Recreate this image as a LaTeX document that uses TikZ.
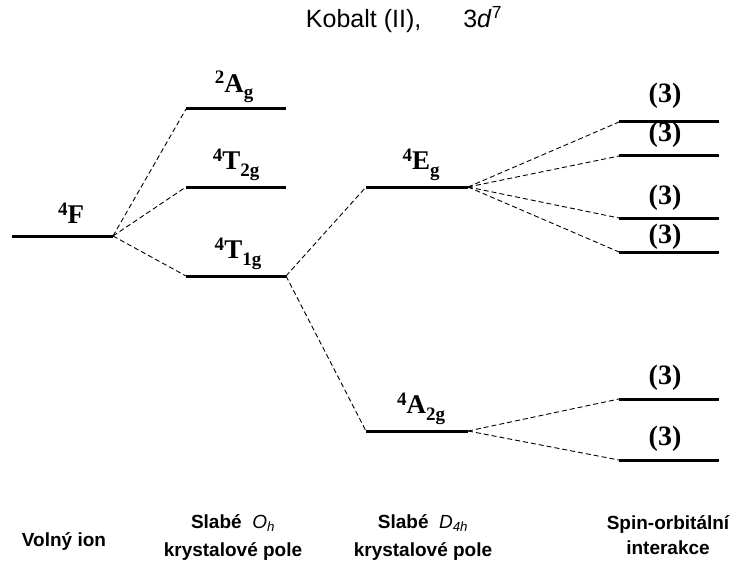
\documentclass[tikz,border=0pt]{standalone}
\usepackage{fontspec}
\setmainfont{Liberation Sans}
\newfontfamily\tms{Liberation Serif}
\newcommand\mysup[1]{\raisebox{0.3em}{\fontsize{19}{20}\selectfont #1}}
\newcommand\mysub[1]{\raisebox{-0.24em}{\fontsize{19}{20}\selectfont #1}}
\begin{document}
\begin{tikzpicture}[x=1pt,y=-1pt,
  level/.style={line width=3pt},
  conn/.style={line width=0.9pt,dash pattern=on 5pt off 3pt},
  lab/.style={font=\tms\bfseries\fontsize{27}{30}\selectfont,inner sep=0pt},
  deg/.style={font=\tms\bfseries\fontsize{28}{30}\selectfont,inner sep=0pt},
  foot/.style={font=\bfseries\fontsize{19}{22}\selectfont,align=center,inner sep=0pt}]
\useasboundingbox (0,0) rectangle (751,564);
% title
\node[font=\fontsize{25}{27}\selectfont,inner sep=0pt] (title) at (404,20) {Kobalt (II),\hspace{42pt}3\textit{d}\textsuperscript{7}};
% level end points
\coordinate (FL) at (12,236);   \coordinate (FR) at (113,236);
\coordinate (AgL) at (186,109); \coordinate (AgR) at (286,109);
\coordinate (T2L) at (186,187); \coordinate (T2R) at (286,187);
\coordinate (T1L) at (186,276); \coordinate (T1R) at (286,276);
\coordinate (EL) at (366,187);  \coordinate (ER) at (468,187);
\coordinate (A2L) at (366,431); \coordinate (A2R) at (468,431);
\foreach \n/\y in {a/122,b/156,c/218,d/252,e/399,f/460}{
  \coordinate (\n L) at (619,\y); \coordinate (\n R) at (719,\y);}
% levels
\foreach \n in {F,Ag,T2,T1,E,A2,a,b,c,d,e,f}{\draw[level] (\n L) -- (\n R);}
% connectors
\foreach \t in {AgL,T2L,T1L}{\draw[conn] (FR) -- (\t);}
\foreach \t in {EL,A2L}{\draw[conn] (T1R) -- (\t);}
\foreach \t in {aL,bL,cL,dL}{\draw[conn] (ER) -- (\t);}
\foreach \t in {eL,fL}{\draw[conn] (A2R) -- (\t);}
% labels
\node[lab] (lF) at (71,213) {\mysup{4}F};
\node[lab] (lAg) at (234,87) {\mysup{2}A\mysub{g}};
\node[lab] (lT2) at (236,165) {\mysup{4}T\mysub{2g}};
\node[lab] (lT1) at (238,254) {\mysup{4}T\mysub{1g}};
\node[lab] (lE) at (421,165) {\mysup{4}E\mysub{g}};
\node[lab] (lA2) at (421,409) {\mysup{4}A\mysub{2g}};
\foreach \n/\y in {a/96,b/135,c/198,d/237,e/378,f/439}{
  \node[deg] (l\n) at (665,\y) {(3)};}
% footer
\node[foot] (f1) at (64,541) {Voln\'y ion};
\node[foot] (f2) at (233,537) {Slab\'e \ \textnormal{\textit{O\textsubscript{h}}}\\[6pt] krystalov\'e pole};
\node[foot] (f3) at (423,537) {Slab\'e \ \textnormal{\textit{D\textsubscript{4h}}}\\[6pt] krystalov\'e pole};
\node[foot] (f4) at (668,535) {Spin-orbit\'aln\'i\\[3pt] interakce};
\end{tikzpicture}
\end{document}
